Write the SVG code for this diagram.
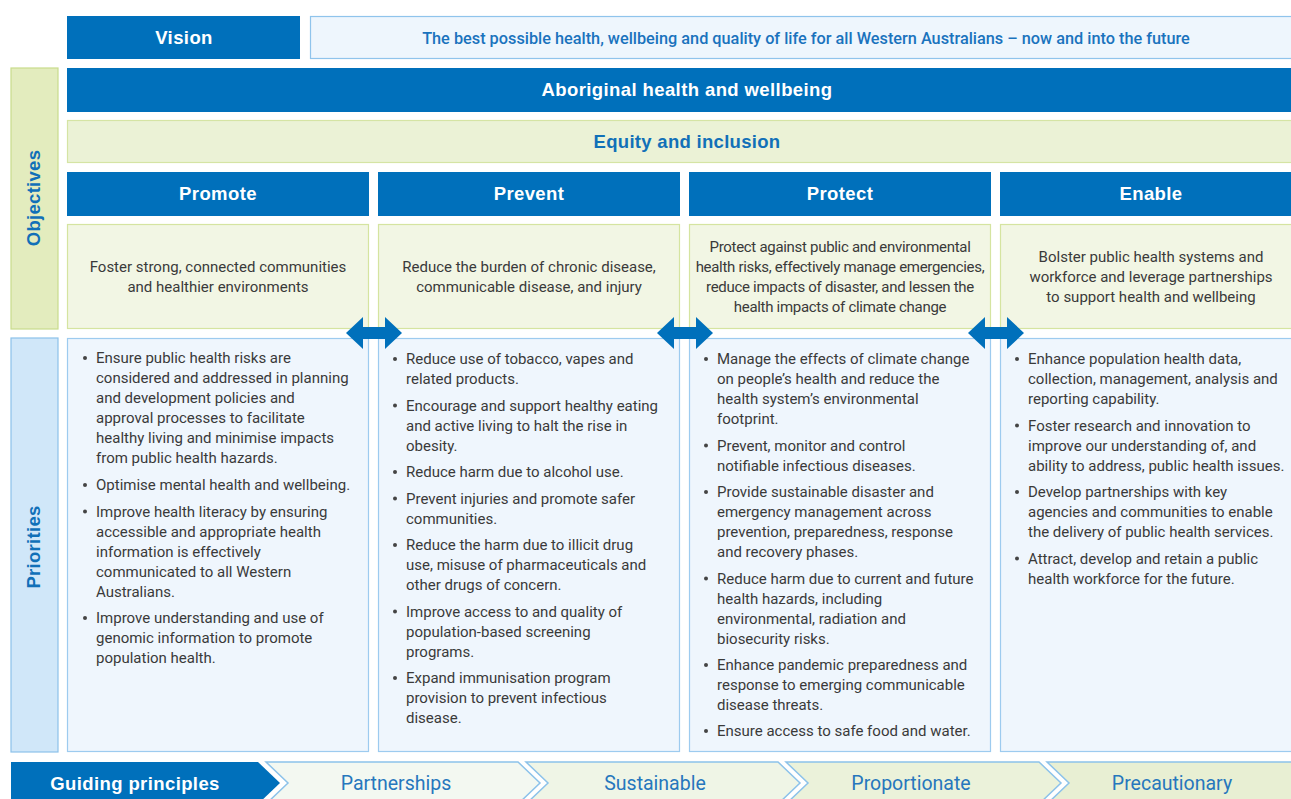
<svg xmlns="http://www.w3.org/2000/svg" width="1291" height="799" viewBox="0 0 1291 799">
<defs>
<style>
.blue{fill:#0070bb}
.hdr{font-family:"Liberation Sans",Arial,sans-serif;font-weight:bold;font-size:18.5px;letter-spacing:0.4px;fill:#ffffff;text-anchor:middle}
.bhdr{font-family:"Liberation Sans",Arial,sans-serif;font-weight:bold;font-size:18.5px;letter-spacing:0.3px;fill:#1170b8;text-anchor:middle}
.vis{font-family:Roboto,"Liberation Sans",sans-serif;font-weight:500;font-size:16.3px;fill:#1a73bd;text-anchor:middle}
.obj{font-family:Roboto,"Liberation Sans",sans-serif;font-size:15px;fill:#3a3a3a;text-anchor:middle}
.tight{letter-spacing:-0.3px}
.pri{font-family:Roboto,"Liberation Sans",sans-serif;font-size:15px;fill:#3a3a3a}
.gp{font-family:Roboto,"Liberation Sans",sans-serif;font-size:19.5px;fill:#2677bd;text-anchor:middle}
.objbox{fill:#f2f6e4;stroke:#d5e4a0;stroke-width:1.2}
.pribox{fill:#eff6fd;stroke:#9dcbef;stroke-width:1.2}
.dot{fill:#444444}
.chev{stroke:#8cc2ea;stroke-width:1.5}
</style>
<path id="dbl" d="M-28,0 L-11,-16 L-11,-6 L11,-6 L11,-16 L28,0 L11,16 L11,6 L-11,6 L-11,16 Z" fill="#0070bb"/>
</defs>

<g id="vision">
<rect x="67" y="16" width="233" height="43" class="blue"/>
<text x="184" y="44" class="hdr">Vision</text>
</g>
<g id="vision-text">
<rect x="310.5" y="16.5" width="1000" height="42" fill="#eef6fd" stroke="#8fc4ec" stroke-width="1.2"/>
<text x="806" y="44" class="vis">The best possible health, wellbeing and quality of life for all Western Australians – now and into the future</text>
</g>

<g id="objectives-label">
<rect x="11" y="68" width="47" height="261" fill="#e3ecbe" stroke="#c9dc8c" stroke-width="1.2"/>
<text transform="translate(40,198) rotate(-90)" class="bhdr">Objectives</text>
</g>
<g id="priorities-label">
<rect x="11" y="338" width="47" height="414" fill="#d0e7f9" stroke="#8cc2ea" stroke-width="1.2"/>
<text transform="translate(40,547) rotate(-90)" class="bhdr">Priorities</text>
</g>

<g id="aboriginal">
<rect x="67" y="68" width="1240" height="44" class="blue"/>
<text x="687" y="96" class="hdr">Aboriginal health and wellbeing</text>
</g>
<g id="equity">
<rect x="67.5" y="120.5" width="1240" height="42" fill="#ebf2d6" stroke="#d5e4a4" stroke-width="1.2"/>
<text x="687" y="148" class="bhdr">Equity and inclusion</text>
</g>

<g id="promote">
<rect x="67" y="172" width="302" height="44" class="blue"/>
<text x="218" y="200" class="hdr">Promote</text>
<rect x="67.5" y="224.5" width="301" height="104" class="objbox"/>
<text class="obj"><tspan x="218" y="272">Foster strong, connected communities</tspan><tspan x="218" y="292">and healthier environments</tspan></text>
</g>
<g id="prevent">
<rect x="378" y="172" width="302" height="44" class="blue"/>
<text x="529" y="200" class="hdr">Prevent</text>
<rect x="378.5" y="224.5" width="301" height="104" class="objbox"/>
<text class="obj"><tspan x="529" y="272">Reduce the burden of chronic disease,</tspan><tspan x="529" y="292">communicable disease, and injury</tspan></text>
</g>
<g id="protect">
<rect x="689" y="172" width="302" height="44" class="blue"/>
<text x="840" y="200" class="hdr">Protect</text>
<rect x="689.5" y="224.5" width="301" height="104" class="objbox"/>
<text class="obj tight"><tspan x="840" y="252">Protect against public and environmental</tspan><tspan x="840" y="272">health risks, effectively manage emergencies,</tspan><tspan x="840" y="292">reduce impacts of disaster, and lessen the</tspan><tspan x="840" y="312">health impacts of climate change</tspan></text>
</g>
<g id="enable">
<rect x="1000" y="172" width="310" height="44" class="blue"/>
<text x="1151" y="200" class="hdr">Enable</text>
<rect x="1000.5" y="224.5" width="310" height="104" class="objbox"/>
<text class="obj"><tspan x="1151" y="262">Bolster public health systems and</tspan><tspan x="1151" y="282">workforce and leverage partnerships</tspan><tspan x="1151" y="302">to support health and wellbeing</tspan></text>
</g>

<g id="promote-priorities">
<rect x="67.5" y="338.5" width="301" height="413" class="pribox"/>
<circle cx="85" cy="358" r="2" class="dot"/><circle cx="85" cy="485" r="2" class="dot"/><circle cx="85" cy="511.5" r="2" class="dot"/><circle cx="85" cy="618" r="2" class="dot"/>
<text class="pri">
<tspan x="96" y="363">Ensure public health risks are</tspan>
<tspan x="96" y="383">considered and addressed in planning</tspan>
<tspan x="96" y="403">and development policies and</tspan>
<tspan x="96" y="423">approval processes to facilitate</tspan>
<tspan x="96" y="443">healthy living and minimise impacts</tspan>
<tspan x="96" y="463">from public health hazards.</tspan>
<tspan x="96" y="490">Optimise mental health and wellbeing.</tspan>
<tspan x="96" y="516.5">Improve health literacy by ensuring</tspan>
<tspan x="96" y="536.5">accessible and appropriate health</tspan>
<tspan x="96" y="556.5">information is effectively</tspan>
<tspan x="96" y="576.5">communicated to all Western</tspan>
<tspan x="96" y="596.5">Australians.</tspan>
<tspan x="96" y="623">Improve understanding and use of</tspan>
<tspan x="96" y="643">genomic information to promote</tspan>
<tspan x="96" y="663">population health.</tspan>
</text>
</g>

<g id="prevent-priorities">
<rect x="378.5" y="338.5" width="301" height="413" class="pribox"/>
<circle cx="395" cy="359" r="2" class="dot"/><circle cx="395" cy="405.5" r="2" class="dot"/><circle cx="395" cy="472" r="2" class="dot"/><circle cx="395" cy="498.5" r="2" class="dot"/><circle cx="395" cy="545" r="2" class="dot"/><circle cx="395" cy="611.5" r="2" class="dot"/><circle cx="395" cy="678" r="2" class="dot"/>
<text class="pri">
<tspan x="406" y="364">Reduce use of tobacco, vapes and</tspan>
<tspan x="406" y="384">related products.</tspan>
<tspan x="406" y="410.5">Encourage and support healthy eating</tspan>
<tspan x="406" y="430.5">and active living to halt the rise in</tspan>
<tspan x="406" y="450.5">obesity.</tspan>
<tspan x="406" y="477">Reduce harm due to alcohol use.</tspan>
<tspan x="406" y="503.5">Prevent injuries and promote safer</tspan>
<tspan x="406" y="523.5">communities.</tspan>
<tspan x="406" y="550">Reduce the harm due to illicit drug</tspan>
<tspan x="406" y="570">use, misuse of pharmaceuticals and</tspan>
<tspan x="406" y="590">other drugs of concern.</tspan>
<tspan x="406" y="616.5">Improve access to and quality of</tspan>
<tspan x="406" y="636.5">population-based screening</tspan>
<tspan x="406" y="656.5">programs.</tspan>
<tspan x="406" y="683">Expand immunisation program</tspan>
<tspan x="406" y="703">provision to prevent infectious</tspan>
<tspan x="406" y="723">disease.</tspan>
</text>
</g>

<g id="protect-priorities">
<rect x="689.5" y="338.5" width="301" height="413" class="pribox"/>
<circle cx="706" cy="359" r="2" class="dot"/><circle cx="706" cy="445.5" r="2" class="dot"/><circle cx="706" cy="492" r="2" class="dot"/><circle cx="706" cy="578.5" r="2" class="dot"/><circle cx="706" cy="665" r="2" class="dot"/><circle cx="706" cy="731" r="2" class="dot"/>
<text class="pri">
<tspan x="717" y="364">Manage the effects of climate change</tspan>
<tspan x="717" y="384">on people’s health and reduce the</tspan>
<tspan x="717" y="404">health system’s environmental</tspan>
<tspan x="717" y="424">footprint.</tspan>
<tspan x="717" y="450.5">Prevent, monitor and control</tspan>
<tspan x="717" y="470.5">notifiable infectious diseases.</tspan>
<tspan x="717" y="497">Provide sustainable disaster and</tspan>
<tspan x="717" y="517">emergency management across</tspan>
<tspan x="717" y="537">prevention, preparedness, response</tspan>
<tspan x="717" y="557">and recovery phases.</tspan>
<tspan x="717" y="583.5">Reduce harm due to current and future</tspan>
<tspan x="717" y="603.5">health hazards, including</tspan>
<tspan x="717" y="623.5">environmental, radiation and</tspan>
<tspan x="717" y="643.5">biosecurity risks.</tspan>
<tspan x="717" y="670">Enhance pandemic preparedness and</tspan>
<tspan x="717" y="690">response to emerging communicable</tspan>
<tspan x="717" y="710">disease threats.</tspan>
<tspan x="717" y="736">Ensure access to safe food and water.</tspan>
</text>
</g>

<g id="enable-priorities">
<rect x="1000.5" y="338.5" width="310" height="413" class="pribox"/>
<circle cx="1017" cy="359" r="2" class="dot"/><circle cx="1017" cy="425.5" r="2" class="dot"/><circle cx="1017" cy="492" r="2" class="dot"/><circle cx="1017" cy="558.5" r="2" class="dot"/>
<text class="pri">
<tspan x="1028" y="364">Enhance population health data,</tspan>
<tspan x="1028" y="384">collection, management, analysis and</tspan>
<tspan x="1028" y="404">reporting capability.</tspan>
<tspan x="1028" y="430.5">Foster research and innovation to</tspan>
<tspan x="1028" y="450.5">improve our understanding of, and</tspan>
<tspan x="1028" y="470.5">ability to address, public health issues.</tspan>
<tspan x="1028" y="497">Develop partnerships with key</tspan>
<tspan x="1028" y="517">agencies and communities to enable</tspan>
<tspan x="1028" y="537">the delivery of public health services.</tspan>
<tspan x="1028" y="563.5">Attract, develop and retain a public</tspan>
<tspan x="1028" y="583.5">health workforce for the future.</tspan>
</text>
</g>

<g id="connectors">
<use href="#dbl" x="374" y="333"/>
<use href="#dbl" x="685" y="333"/>
<use href="#dbl" x="996" y="333"/>
</g>

<g id="guiding-principles">
<polygon points="11,762 258,762 280,783 258,804 11,804" fill="#0070bb"/>
<text x="135" y="790" class="hdr">Guiding principles</text>
</g>
<g id="partnerships">
<polygon points="266,762 518,762 540,783 518,804 266,804 288,783" fill="#f3f8f1" class="chev"/>
<text x="396" y="790" class="gp">Partnerships</text>
</g>
<g id="sustainable">
<polygon points="526,762 778,762 800,783 778,804 526,804 548,783" fill="#eff5e6" class="chev"/>
<text x="655" y="790" class="gp">Sustainable</text>
</g>
<g id="proportionate">
<polygon points="786,762 1039,762 1061,783 1039,804 786,804 808,783" fill="#ebf2da" class="chev"/>
<text x="911" y="790" class="gp">Proportionate</text>
</g>
<g id="precautionary">
<polygon points="1047,762 1310,762 1310,804 1047,804 1069,783" fill="#e8efd3" class="chev"/>
<text x="1172" y="790" class="gp">Precautionary</text>
</g>
</svg>
